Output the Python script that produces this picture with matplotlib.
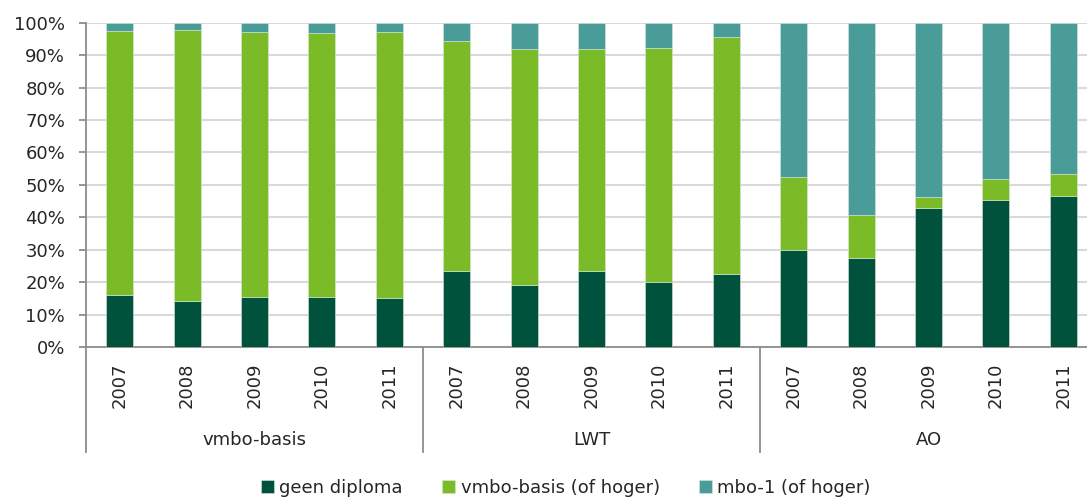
import matplotlib
matplotlib.use("Agg")
import matplotlib.pyplot as plt
from matplotlib.ticker import FuncFormatter
import numpy as np

groups = ["vmbo-basis", "LWT", "AO"]
years = ["2007", "2008", "2009", "2010", "2011"]
series_names = ["geen diploma", "vmbo-basis (of hoger)", "mbo-1 (of hoger)"]
geen_diploma = [16.1, 14.2, 15.3, 15.3, 15.2,
                23.3, 19.0, 23.5, 19.9, 22.4,
                29.8, 27.4, 43.0, 45.2, 46.7]
vmbo_basis = [81.3, 83.4, 81.9, 81.4, 81.8,
              71.0, 72.8, 68.5, 72.2, 73.2,
              22.7, 13.3, 3.2, 6.6, 6.6]
mbo1 = [100 - a - b for a, b in zip(geen_diploma, vmbo_basis)]
colors = ["#00523C", "#7CBB28", "#499C98"]

plt.rcParams['font.family'] = ['DejaVu Sans']
text_color = "#262626"

fig = plt.figure(figsize=(10.87, 4.98), dpi=100)
W, H = 1087, 498
ax = fig.add_axes([86 / W, 1 - 347 / H, (1097 - 86) / W, (347 - 22.7) / H])

n = len(groups) * len(years)
x = np.arange(n)
bottom = np.zeros(n)
for vals, c, name in zip([geen_diploma, vmbo_basis, mbo1], colors, series_names):
    ax.bar(x, vals, bottom=bottom, width=0.4, color=c, edgecolor="#d8e8d8",
           linewidth=0.4, label=name, zorder=3)
    bottom += np.array(vals)

ax.set_xlim(-0.5, n - 0.5)
ax.set_ylim(0, 100)
ax.set_yticks(np.arange(0, 101, 10))
ax.yaxis.set_major_formatter(FuncFormatter(lambda v, p: f"{int(v)}%"))
ax.grid(axis="y", color="#d9d9d9", linewidth=1.5, zorder=0)
ax.set_axisbelow(True)
for s in ["top", "right"]:
    ax.spines[s].set_visible(False)
ax.spines["left"].set_color("#8c8c8c")
ax.spines["bottom"].set_color("#8c8c8c")
ax.spines["left"].set_linewidth(1.3)
ax.spines["bottom"].set_linewidth(1.3)
ax.tick_params(axis="y", length=5, color="#8c8c8c", width=1.3, pad=10,
               labelsize=13, labelcolor=text_color)
ax.set_xticks(x)
ax.set_xticklabels(years * len(groups), rotation=90, fontsize=13, color=text_color,
                   va="top")
ax.tick_params(axis="x", length=0, pad=11)

# group separators and labels
trans = ax.get_xaxis_transform()
axh = (347 - 22.7)
drop = -(452 - 347) / axh
for i in range(len(groups) + 1):
    xpos = i * len(years) - 0.5
    ax.plot([xpos, xpos], [0, drop], transform=trans, color="#8c8c8c",
            linewidth=1.3, clip_on=False)
for i, g in enumerate(groups):
    xc = i * len(years) + (len(years) - 1) / 2
    ax.text(xc, -(440 - 347) / axh, g, transform=trans, ha="center", va="center",
            fontsize=13, color=text_color)

fig.legend(loc="center", bbox_to_anchor=(566 / W, 1 - 488 / H), ncol=3,
           frameon=False, fontsize=13, handlelength=0.7, handleheight=0.7,
           handletextpad=0.3, columnspacing=2.2, labelcolor=text_color)

fig.savefig("out.png", dpi=100)
